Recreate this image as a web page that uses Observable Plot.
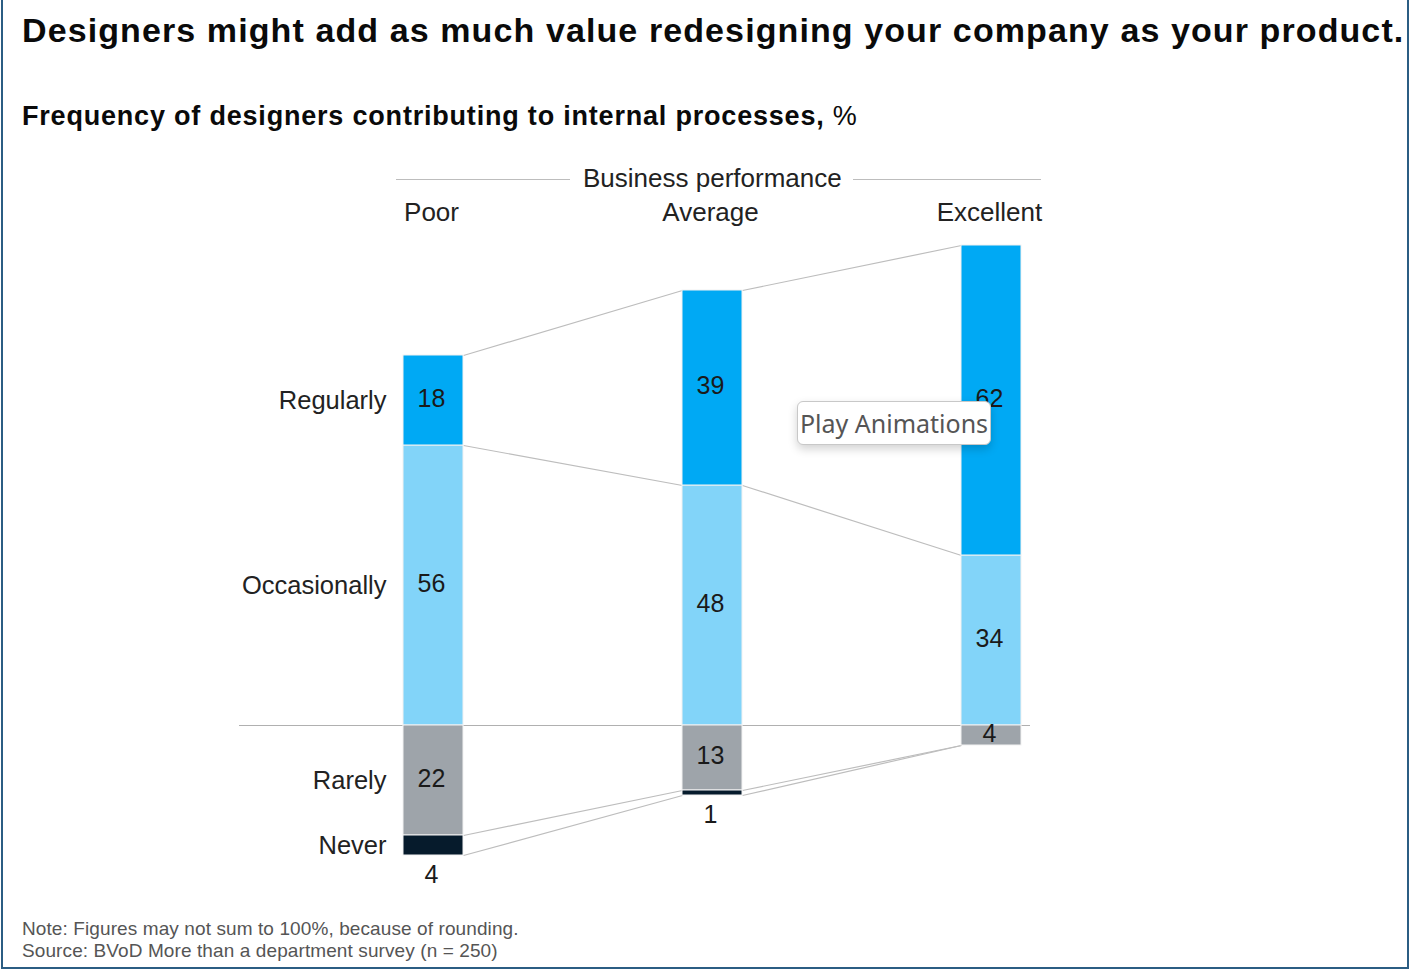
<!DOCTYPE html>
<html>
<head>
<meta charset="utf-8">
<script src="https://cdn.jsdelivr.net/npm/d3@7"></script>
<script src="https://cdn.jsdelivr.net/npm/@observablehq/plot@0.6"></script>
<style>
  html, body { margin: 0; padding: 0; background: #fff; }
  body { width: 1409px; height: 970px; position: relative; overflow: hidden; font-family: "Liberation Sans", Arial, sans-serif; color: #111; }
  #frame { position: absolute; left: 1px; top: -4px; width: 1404px; height: 969px; border: 2px solid #2b5d83; }
  #title { position: absolute; left: 22px; top: 11px; font-size: 34px; letter-spacing: 1.1px; font-weight: bold; white-space: nowrap; color: #0a0a0a; }
  #subtitle { position: absolute; left: 22px; top: 101px; font-size: 27px; letter-spacing: 0.8px; font-weight: bold; white-space: nowrap; color: #0a0a0a; }
  #subtitle span { font-weight: normal; }
  #header { position: absolute; left: 396px; top: 163px; width: 645px; display: flex; align-items: center; font-size: 26px; color: #222; }
  #header .ln { flex: 1; border-top: 1px solid #bdbdbd; height: 0; margin-top: 2px; }
  #header .ln.first { flex: 0 0 174px; }
  #header .tx { padding: 0 11px 0 13px; white-space: nowrap; }
  #chart { position: absolute; left: 0; top: 160px; }
  #notes { position: absolute; left: 22px; top: 918px; font-size: 19px; letter-spacing: 0.1px; line-height: 22px; color: #555; }
  #play { position: absolute; left: 797px; top: 401px; width: 192px; height: 42px; border: 1px solid #c8c8c8; border-radius: 6px; background: #fff; box-shadow: 0 4px 10px rgba(0,0,0,0.18); font-family: "Noto Sans", sans-serif; font-size: 25px; color: #555; display: flex; align-items: center; justify-content: center; white-space: nowrap; }
</style>
</head>
<body>
<div id="frame"></div>
<div id="title">Designers might add as much value redesigning your company as your product.</div>
<div id="subtitle">Frequency of designers contributing to internal processes, <span>%</span></div>
<div id="header"><div class="ln first"></div><div class="tx">Business performance</div><div class="ln"></div></div>
<div id="chart"></div>
<div id="notes">Note: Figures may not sum to 100%, because of rounding.<br>Source: BVoD More than a department survey (n = 250)</div>
<div id="play">Play Animations</div>
<script>
const columns = ["Poor", "Average", "Excellent"];
const categories = ["Regularly", "Occasionally", "Rarely", "Never"];
const regularly = [18, 39, 62];
const occasionally = [56, 48, 34];
const rarely = [22, 13, 4];
const never = [4, 1, 0];

const colors = {Regularly: "#00a9f4", Occasionally: "#82d4f9", Rarely: "#9ea4aa", Never: "#061b2c"};
const hw = 30 / 279; // half bar width in column units

const segments = [];
columns.forEach((c, i) => {
  segments.push({col: c, i, cat: "Occasionally", v: occasionally[i], y1: 0, y2: occasionally[i]});
  segments.push({col: c, i, cat: "Regularly", v: regularly[i], y1: occasionally[i], y2: occasionally[i] + regularly[i]});
  segments.push({col: c, i, cat: "Rarely", v: rarely[i], y1: 0, y2: -rarely[i]});
  segments.push({col: c, i, cat: "Never", v: never[i], y1: -rarely[i], y2: -rarely[i] - never[i]});
});
const drawn = segments.filter(d => d.v > 0);

const bounds = columns.map((c, i) => [occasionally[i] + regularly[i], occasionally[i], -rarely[i], -rarely[i] - never[i]]);
const links = [];
for (let i = 0; i < columns.length - 1; i++) {
  for (let k = 0; k < 4; k++) links.push({x1: i + hw, y1: bounds[i][k], x2: i + 1 - hw, y2: bounds[i + 1][k]});
}

const inside = drawn.filter(d => d.cat !== "Never");
const below = drawn.filter(d => d.cat === "Never");
const rowLabels = segments.filter(d => d.i === 0);

const chart = Plot.plot({
  width: 1409,
  height: 740,
  marginLeft: 239,
  marginRight: 379,
  marginTop: 0,
  marginBottom: 0,
  x: {domain: [0, 2], range: [433, 991], axis: null},
  y: {domain: [0, 100], range: [565, 65], axis: null},
  style: {fontFamily: "Liberation Sans, Arial, sans-serif", fontSize: "25px", color: "#222", background: "transparent", overflow: "visible"},
  marks: [
    Plot.ruleY([0], {stroke: "#b0b0b0", strokeWidth: 1.2}),
    Plot.link(links, {x1: "x1", y1: "y1", x2: "x2", y2: "y2", stroke: "#bdbdbd", strokeWidth: 1.2}),
    Plot.rect(drawn, {x1: d => d.i - hw, x2: d => d.i + hw, y1: "y1", y2: "y2", fill: d => colors[d.cat], stroke: "#f2f2f2", strokeWidth: 1}),
    Plot.text(inside, {x: "i", y: d => (d.y1 + d.y2) / 2, text: d => String(d.v), fill: "#1a1a1a", fontSize: 25, dx: -2, dy: -2}),
    Plot.text(below, {x: "i", y: "y2", text: d => String(d.v), fill: "#1a1a1a", fontSize: 25, dy: 19, lineAnchor: "middle", dx: -2}),
    Plot.text(rowLabels, {x: "i", y: d => (d.y1 + d.y2) / 2, text: "cat", textAnchor: "end", dx: -47, fill: "#222", fontSize: 25.5}),
    Plot.text(columns, {x: (d, i) => i, text: d => d, frameAnchor: "top", dy: 52, dx: -2, lineAnchor: "middle", fill: "#222", fontSize: 26})
  ]
});
document.getElementById("chart").appendChild(chart);
</script>
</body>
</html>
